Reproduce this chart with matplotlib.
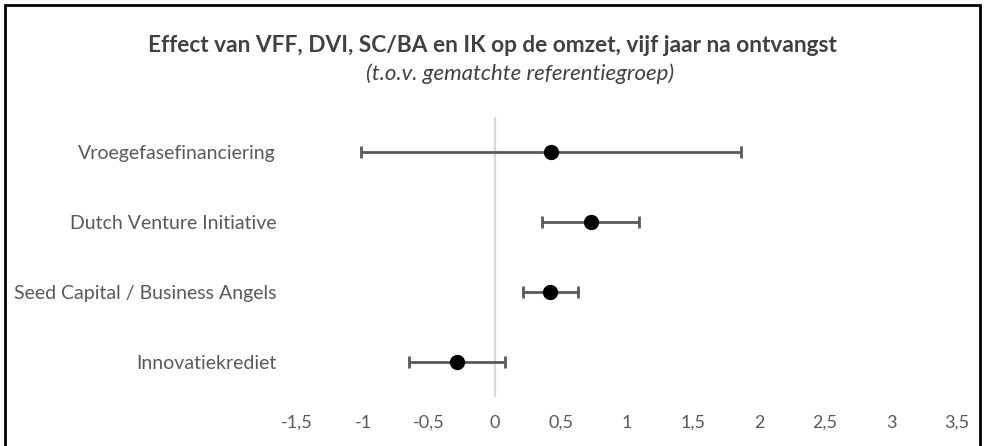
import matplotlib
matplotlib.use("Agg")
import matplotlib.pyplot as plt
from matplotlib.patches import Rectangle

categories = ["Vroegefasefinanciering", "Dutch Venture Initiative",
              "Seed Capital / Business Angels", "Innovatiekrediet"]
effects = [0.424, 0.725, 0.419, -0.288]
lower = [-1.017, 0.358, 0.212, -0.649]
upper = [1.864, 1.091, 0.631, 0.076]
xticks = [-1.5, -1, -0.5, 0, 0.5, 1, 1.5, 2, 2.5, 3, 3.5]
title = "Effect van VFF, DVI, SC/BA en IK op de omzet, vijf jaar na ontvangst"
subtitle = "(t.o.v. gematchte referentiegroep)"

plt.rcParams['font.family'] = ['Lato', 'DejaVu Sans']
W, H = 984, 446
fig = plt.figure(figsize=(W / 100, H / 100), dpi=100)

left_px, right_px, top_px, bot_px = 297, 957, 117, 397
ax = fig.add_axes([left_px / W, 1 - bot_px / H, (right_px - left_px) / W, (bot_px - top_px) / H])

n = len(categories)
ypos = [n - i for i in range(n)]
ax.axvline(0, color="#D9D9D9", lw=1.6, zorder=1)
xerr = [[e - l for e, l in zip(effects, lower)], [u - e for e, u in zip(effects, upper)]]
ax.errorbar(effects, ypos, xerr=xerr, fmt="o", color="black", ms=10,
            ecolor="#595959", elinewidth=2, capsize=4.5, capthick=2, zorder=3)

ax.set_xlim(-1.5, 3.5)
ax.set_ylim(0.5, n + 0.5)
ax.set_xticks(xticks)
ax.set_xticklabels([("%g" % t).replace(".", ",") for t in xticks])
ax.set_yticks(ypos)
ax.set_yticklabels(categories)
ax.tick_params(axis="both", length=0, colors="#595959")
ax.tick_params(axis="x", pad=13, labelsize=13)
ax.tick_params(axis="y", pad=15, labelsize=14)
for s in ax.spines.values():
    s.set_visible(False)

fig.text(492 / W, 1 - 45 / H, title, ha="center", va="center", fontsize=16.3,
         fontweight="bold", color="#404040")
fig.text(520 / W, 1 - 74 / H, subtitle, ha="center", va="center", fontsize=16,
         style="italic", color="#404040")

fig.patches.append(Rectangle((5 / W, -0.01), (975 / W), 1 - 5 / H + 0.01,
                             transform=fig.transFigure, fill=False,
                             edgecolor="black", lw=2))

fig.savefig("out.png", dpi=100)
